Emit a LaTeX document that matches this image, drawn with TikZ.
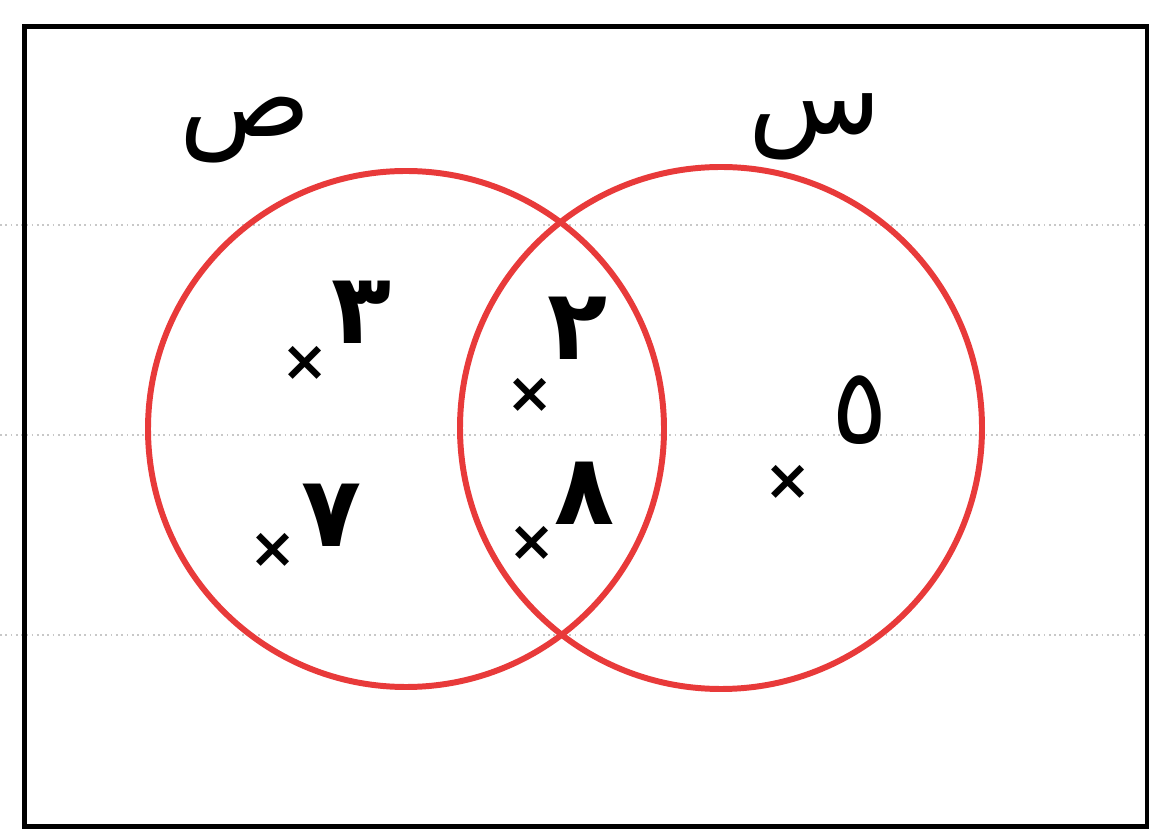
\documentclass[tikz,border=0pt]{standalone}
\usepackage{fontspec}
\newfontfamily\arabicfont[Script=Arabic]{DejaVu Sans}
\newfontfamily\markfont{DejaVu Sans}
\TeXXeTstate=1
\definecolor{vennred}{RGB}{232,58,58}
\definecolor{ruleline}{RGB}{200,200,200}
\tikzset{
  setcircle/.style={draw=vennred, line width=3.4pt},
  frame/.style={draw=black, line width=2.8pt},
  notebook/.style={draw=ruleline, line width=1pt, dotted},
  digit/.style={inner sep=0pt, font=\arabicfont\fontsize{56}{56}\selectfont\bfseries},
  xmark/.style={inner sep=0pt, font=\markfont\fontsize{32}{32}\selectfont\bfseries},
  setname/.style={inner sep=0pt, font=\arabicfont\fontsize{62}{62}\selectfont},
}
\begin{document}
\begin{tikzpicture}[x=0.02cm,y=-0.02cm]
\useasboundingbox (0,0) rectangle (1149,830);
% notebook lines
\draw[notebook] (0,225) -- (1149,225);
\draw[notebook] (0,435) -- (1149,435);
\draw[notebook] (0,635) -- (1149,635);
% frame
\node[frame, minimum width=1123*0.02cm, minimum height=800*0.02cm, anchor=north west, inner sep=0pt] (U) at (22,24) {};
% circles
\node[setcircle, circle, minimum size=516*0.02cm, inner sep=0pt] (A) at (406,429) {};
\node[setcircle, circle, minimum size=522*0.02cm, inner sep=0pt] (B) at (721,428) {};
% set names
\node[setname] (lA) at (245,130) {\beginR ص\endR};
\node[setname] (lB) at (815,127) {\beginR س\endR};
% elements
\node[xmark] (x3) at (305,363) {×};
\node[digit] (d3) at (362,312) {٣};
\node[xmark] (x7) at (273,550) {×};
\node[digit] (d7) at (332,515) {٧};
\node[xmark] (x2) at (530,395) {×};
\node[digit] (d2) at (578,328) {٢};
\node[xmark] (x8) at (532,543) {×};
\node[digit] (d8) at (585,493) {٨};
\node[xmark] (x5) at (788,482) {×};
\node[digit, font=\arabicfont\fontsize{60}{60}\selectfont] (d5) at (860,410) {٥};
\end{tikzpicture}
\end{document}
